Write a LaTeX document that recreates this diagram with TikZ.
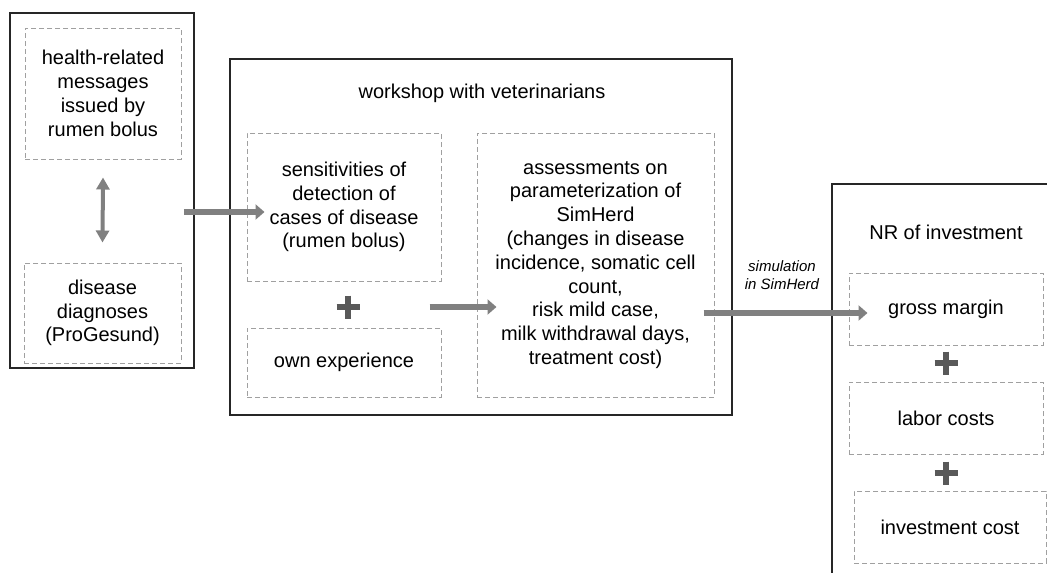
\documentclass[tikz,border=0pt]{standalone}
\usepackage{fontspec}
\setmainfont{Liberation Sans}
\usetikzlibrary{arrows.meta,calc}
\definecolor{arrgray}{HTML}{808080}
\definecolor{plusgray}{HTML}{595959}
\definecolor{dashgray}{HTML}{A0A0A0}
\definecolor{boxblack}{HTML}{262626}
\begin{document}
\begin{tikzpicture}[x=1pt,y=-1pt,
  outer/.style={draw=boxblack, line width=1.8pt, inner sep=0pt},
  dbox/.style={draw=dashgray, dash pattern=on 5pt off 3pt, line width=1pt, inner sep=0pt,
    align=center, font=\fontsize{20}{23.8}\selectfont},
  ttl/.style={font=\fontsize{20}{23.8}\selectfont, inner sep=0pt},
  simlabel/.style={font=\fontsize{15}{18}\selectfont\itshape, align=center, inner sep=0pt},
  bigarrow/.style={draw=arrgray, line width=6.5pt, -{Triangle[width=15pt,length=9pt]}},
  dblarrow/.style={draw=arrgray, line width=4pt, {Triangle[width=13pt,length=12pt]}-{Triangle[width=13pt,length=12pt]}},
  plussign/.style={draw=plusgray, line width=6.5pt}
]
\useasboundingbox (0,0) rectangle (1047,573);
\clip (0,0) rectangle (1047,573);
\fill[white] (0,0) rectangle (1047,573);

% outer boxes
\node[outer, minimum width=184pt, minimum height=355pt] (lo) at (102,190.5) {};
\node[outer, minimum width=502pt, minimum height=356pt] (mo) at (481,237) {};
\node[outer, minimum width=240pt, minimum height=416pt] (ro) at (952,392) {};

% titles
\node[ttl] (wt) at (482,93) {workshop with veterinarians};
\node[ttl] (nt) at (946,232) {NR of investment};

% left
\node[dbox, minimum width=156pt, minimum height=131pt] (hr) at (103,93.5) {health-related\\messages\\issued by\\rumen bolus};
\node[dbox, minimum width=157pt, minimum height=100pt] (dd) at (102.5,313) {disease\\diagnoses\\(ProGesund)};

% middle
\node[dbox, minimum width=194pt, minimum height=148pt] (sens) at (344,207) {sensitivities of\\detection of\\cases of disease\\(rumen bolus)};
\node[dbox, minimum width=194pt, minimum height=69pt] (own) at (344,362.5) {own experience};
\node[dbox, minimum width=237pt, minimum height=264pt] (ass) at (595.5,265) {assessments on\\parameterization of\\SimHerd\\(changes in disease\\incidence, somatic cell\\count,\\risk mild case,\\milk withdrawal days,\\treatment cost)};

% right
\node[dbox, minimum width=194pt, minimum height=72pt] (gm) at (946,309) {gross margin};
\node[dbox, minimum width=194pt, minimum height=72pt] (lc) at (946,418) {labor costs};
\node[dbox, minimum width=192pt, minimum height=72pt] (ic) at (950,527) {investment cost};

% plus signs
\coordinate (p1) at (348,307);
\coordinate (p2) at (946,363);
\coordinate (p3) at (946,473);
\foreach \p in {p1,p2,p3}{
  \draw[plussign] ($(\p)+(-11.5,0)$) -- ($(\p)+(11.5,0)$);
  \draw[plussign] ($(\p)+(0,-11.5)$) -- ($(\p)+(0,11.5)$);
}

% arrows
\draw[dblarrow] ($(hr.south)+(0,18)$) -- ($(dd.north)+(0,-20)$);
\draw[bigarrow] ($(lo.east |- sens.west)+(-11,5)$) -- ($(sens.west)+(18,5)$);
\draw[bigarrow] ($(p1 -| sens.east)+(-12,0)$) -- ($(p1 -| ass.west)+(20,0)$);
\draw[bigarrow] ($(ass.east |- gm.west)+(-11,4)$) -- ($(gm.west)+(19,4)$);

\node[simlabel] (sim) at (782,275) {simulation\\in SimHerd};
\end{tikzpicture}
\end{document}
